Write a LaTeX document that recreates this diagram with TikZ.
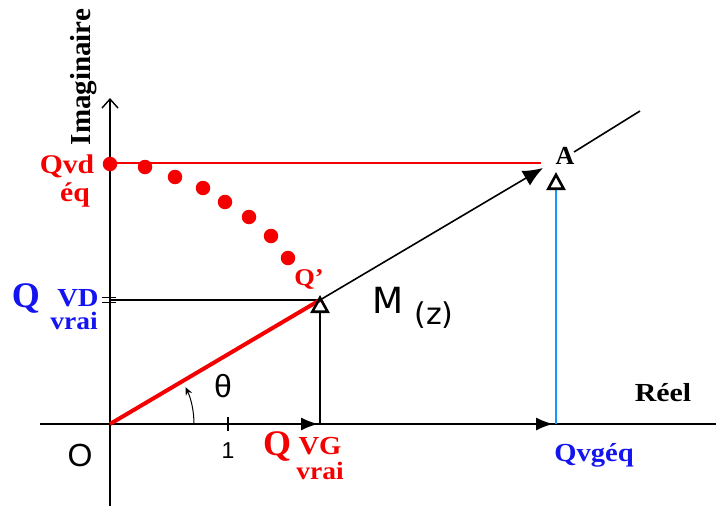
\documentclass[tikz,border=0pt]{standalone}
\usepackage{fontspec}
\setmainfont{Liberation Serif}
\newfontfamily\sansfont{Liberation Sans}
\newfontfamily\dvsans{DejaVu Sans}
\usetikzlibrary{arrows.meta}
\definecolor{qred}{RGB}{245,0,0}
\definecolor{qblue}{RGB}{20,20,240}
\definecolor{lblue}{RGB}{20,150,250}
\begin{document}
\begin{tikzpicture}[x=1pt,y=-1pt,
  axisline/.style={line width=1.6pt, black},
  blk/.style={line width=1.6pt, black},
  lbl/.style={inner sep=0pt, outer sep=0pt},
  fsz/.style={font=\fontsize{#1}{#1}\selectfont},
  bsz/.style={font=\bfseries\fontsize{#1}{#1}\selectfont},
  reddot/.style={circle, fill=qred, inner sep=0pt, minimum size=14.5pt},
  deltatip/.style={-{Triangle[open, length=18pt, width=19pt, line width=2.6pt, color=black]}}
]
\useasboundingbox (0,0) rectangle (716,506);
\fill[white] (0,0) rectangle (716,506);

% key points
\coordinate (O) at (110,424);
\coordinate (M) at (320,300);
\coordinate (Atip) at (543,168);
\coordinate (Astart) at (574,152);
\coordinate (Aend) at (640,111);
\coordinate (Ytop) at (110,98);
\coordinate (Ybot) at (110,506);
\coordinate (Xleft) at (40,424);
\coordinate (Xright) at (716,424);
\coordinate (G) at (320,424);
\coordinate (B) at (556,424);
\coordinate (Btop) at (556,172);
\coordinate (Qdend) at (541,163);
\coordinate (VD) at (110,300);
\coordinate (One) at (228,424);

% axes
\draw[axisline, -{Straight Barb[length=9pt, width=16pt, line width=1.4pt]}] (Ybot) -- (Ytop);
\draw[axisline] (Xleft) -- (Xright);
\draw[blk, -{Latex[length=17pt, width=13pt]}] (O) -- ([xshift=-2pt]G);
\draw[blk, -{Latex[length=17pt, width=13pt]}] (G) -- ([xshift=-3pt]B);
% ticks
\draw[line width=1.3pt] ([yshift=-7pt]One) -- ([yshift=7pt]One);
\draw[line width=1.3pt] (102,297.5) -- (116,297.5);
\draw[line width=1.3pt] (102,302.5) -- (116,302.5);

% horizontal line at Q_VD
\draw[blk] (VD) -- (M);

% red horizontal at Qvd eq
\draw[qred, line width=1.8pt] (110,163) -- (Qdend);

% line O-M-A
\draw[qred, line width=4pt] (O) -- (M);
\draw[blk, -{Latex[length=20pt, width=17pt]}] (M) -- (Atip);
\draw[blk] (Astart) -- (Aend);

% vertical arrows
\draw[blk, deltatip] (G) -- ([yshift=5pt]M);
\draw[lblue, line width=2.6pt, deltatip] (B) -- (Btop);

% angle arc
\draw[line width=1pt, -{Stealth[length=8pt, width=7pt]}] ([shift={(0:84)}]O) arc (0:-26:84);

% red dots
\foreach \p in {(110,164),(145,167),(175,177),(203,188),(225,202),(249,217),(271,236),(288,258)}
  \node[reddot] at \p {};

% labels
\node[lbl, bsz=29, rotate=90] (imag) at (84,77) {Imaginaire};
\node[lbl, bsz=27, text=qred, xscale=1.1] (qvd) at (67,166) {Qvd};
\node[lbl, bsz=27, text=qred, xscale=1.1] (eq) at (75,195) {éq};
\node[lbl, bsz=36, text=qblue] (qvdQ) at (26,298) {Q};
\node[lbl, bsz=26, text=qblue, xscale=1.1] (qvdsub) at (78,298) {VD};
\node[lbl, bsz=25, text=qblue, xscale=1.1] (qvdvrai) at (74,321) {vrai};
\node[lbl, bsz=36, text=qred] (qvgQ) at (277,446) {Q};
\node[lbl, bsz=26, text=qred, xscale=1.1] (qvgsub) at (320,446) {VG};
\node[lbl, bsz=25, text=qred, xscale=1.1] (qvgvrai) at (320,471) {vrai};
\node[lbl, bsz=26, text=qblue, xscale=1.1] (qvgeq) at (594,455) {Qvgéq};
\node[lbl, bsz=26, xscale=1.15] (reel) at (663,393) {Réel};
\node[lbl, font=\sansfont\fontsize{32}{32}\selectfont] (zero) at (80,455) {O};
\node[lbl, font=\sansfont\fontsize{23}{23}\selectfont] (one) at (228,451) {1};
\node[lbl, font=\sansfont\fontsize{32}{32}\selectfont] (theta) at (223,386) {θ};
\node[lbl, font=\dvsans\fontsize{36}{36}\selectfont] (mlab) at (388,300) {M};
\node[lbl, font=\dvsans\fontsize{30}{30}\selectfont] (zlab) at (434,315) {(z)};
\node[lbl, bsz=24, text=qred, xscale=1.1] (qprime) at (309,279) {Q'};
\node[lbl, bsz=26] (alab) at (565,156) {A};
\end{tikzpicture}
\end{document}
